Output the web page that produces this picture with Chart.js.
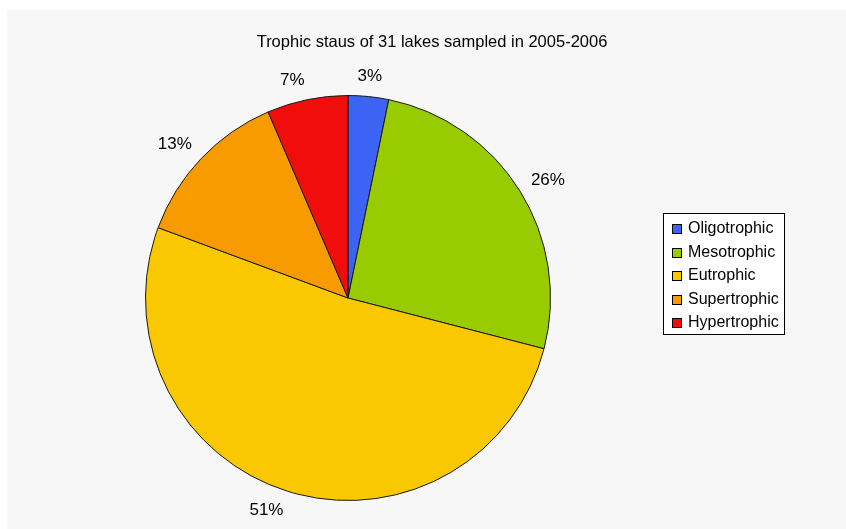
<!DOCTYPE html>
<html>
<head>
<meta charset="utf-8">
<script src="https://cdn.jsdelivr.net/npm/chart.js@4/dist/chart.umd.min.js"></script>
<style>
	html, body { margin: 0; padding: 0; background: #ffffff; }
	#wrap { width: 846px; height: 529px; }
</style>
</head>
<body>
<div id="wrap"><canvas id="pieChart" width="846" height="529"></canvas></div>
<script>
// chart data
var chartTitle = 'Trophic staus of 31 lakes sampled in 2005-2006';
var categories = ['Oligotrophic', 'Mesotrophic', 'Eutrophic', 'Supertrophic', 'Hypertrophic'];
var lakeCounts = [1, 8, 16, 4, 2];
var pctLabels = ['3%', '26%', '51%', '13%', '7%'];
var sliceColors = ['#3d63f5', '#99cc00', '#f9c800', '#f89b00', '#f20d0d'];

var FONT = '"Liberation Sans", Arial, sans-serif';

// grey panel behind the chart + title
var panelPlugin = {
	id: 'panel',
	beforeDraw: function(chart) {
		var ctx = chart.ctx;
		ctx.save();
		ctx.fillStyle = '#ffffff';
		ctx.fillRect(0, 0, chart.width, chart.height);
		ctx.fillStyle = '#f7f7f7';
		ctx.fillRect(7, 10, chart.width - 7, chart.height - 10);
		ctx.fillStyle = '#000000';
		ctx.font = '16.5px ' + FONT;
		ctx.textAlign = 'center';
		ctx.textBaseline = 'middle';
		ctx.fillText(chartTitle, 432, 42);
		ctx.restore();
	}
};

// percentage labels just outside each slice
var outsideLabels = {
	id: 'outsideLabels',
	afterDatasetsDraw: function(chart) {
		var ctx = chart.ctx;
		var arcs = chart.getDatasetMeta(0).data;
		ctx.save();
		ctx.font = '17px ' + FONT;
		ctx.fillStyle = '#000000';
		ctx.textBaseline = 'middle';
		arcs.forEach(function(arc, i) {
			var p = arc.getProps(['x', 'y', 'startAngle', 'endAngle', 'outerRadius'], true);
			var mid = (p.startAngle + p.endAngle) / 2;
			var c = Math.cos(mid), s = Math.sin(mid);
			var d = p.outerRadius + 13;
			var ax = p.x + c * d;
			var ay = p.y + s * d + s * 7;
			if (c > 0.15) ctx.textAlign = 'left';
			else if (c < -0.15) ctx.textAlign = 'right';
			else ctx.textAlign = 'center';
			ctx.fillText(pctLabels[i], ax, ay);
		});
		ctx.restore();
	}
};

// boxed legend on the right
var boxLegend = {
	id: 'boxLegend',
	afterDraw: function(chart) {
		var ctx = chart.ctx;
		var x = 663, y = 213, w = 121, h = 121;
		ctx.save();
		ctx.fillStyle = '#ffffff';
		ctx.fillRect(x, y, w, h);
		ctx.strokeStyle = '#000000';
		ctx.lineWidth = 1;
		ctx.strokeRect(x + 0.5, y + 0.5, w, h);
		ctx.font = '16px ' + FONT;
		ctx.textBaseline = 'middle';
		chart.data.labels.forEach(function(label, i) {
			var cy = y + 16 + i * 23.5;
			ctx.fillStyle = chart.data.datasets[0].backgroundColor[i];
			ctx.fillRect(672, Math.round(cy) - 5, 10, 10);
			ctx.strokeStyle = '#000000';
			ctx.strokeRect(672.5, Math.round(cy) - 4.5, 9, 9);
			ctx.fillStyle = '#000000';
			ctx.fillText(label, 688, cy);
		});
		ctx.restore();
	}
};

var ctxPie = document.getElementById('pieChart').getContext('2d');
var pieChart = new Chart(ctxPie, {
	type: 'pie',
	data: {
		labels: categories,
		datasets: [{
			data: lakeCounts,
			backgroundColor: sliceColors,
			borderColor: '#1a1a1a',
			borderWidth: 1
		}]
	},
	options: {
		responsive: false,
		animation: false,
		layout: { padding: { left: 18, right: 168, top: 95, bottom: 28 } },
		plugins: {
			legend: { display: false },
			tooltip: { enabled: false },
			title: { display: false }
		}
	},
	plugins: [panelPlugin, outsideLabels, boxLegend]
});
</script>
</body>
</html>
